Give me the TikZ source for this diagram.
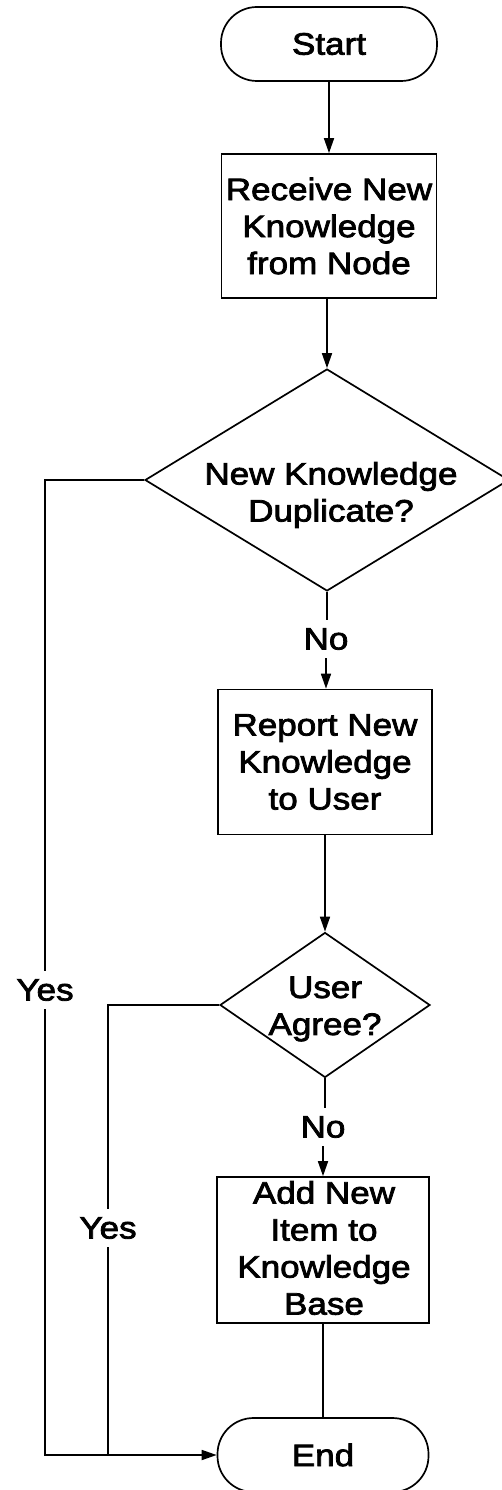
\documentclass[tikz,border=0pt]{standalone}
\usepackage{fontspec}
\setmainfont{Liberation Sans}[FakeStretch=1.13, FakeBold=2.5]
\usetikzlibrary{arrows.meta,shapes.geometric}

\begin{document}
\begin{tikzpicture}[x=1bp, y=-1bp,
  every node/.style={font=\fontsize{31bp}{37bp}\selectfont},
  line/.style={line width=1.7bp, draw=black},
  arr/.style={line, -{Triangle[length=15bp, width=10bp]}},
  terminal/.style={line, rectangle, rounded corners=36bp, inner sep=0pt},
  process/.style={line, rectangle, inner sep=0pt},
  decision/.style={line, diamond, inner sep=0pt},
  txt/.style={align=center, inner sep=0pt},
  lbl/.style={inner sep=8bp}
]
\useasboundingbox (0,0) rectangle (502,1490);

% process steps
\node[terminal, minimum width=216bp, minimum height=74bp] (start) at (329,44) {Start};
\node[process, minimum width=215bp, minimum height=144bp] (b1) at (329,226) {};
\node[txt] at (b1) {Receive New\\Knowledge\\from Node};

\node[decision, minimum width=364bp, minimum height=222bp] (d1) at (327,480) {};
\node[txt] at (331,495) {New Knowledge\\Duplicate?};

\node[process, minimum width=214bp, minimum height=145bp] (b2) at (325,762) {};
\node[txt] at (b2) {Report New\\Knowledge\\to User};

\node[decision, minimum width=210bp, minimum height=145bp] (d2) at (325,1005) {};
\node[txt] at (325,1009) {User\\Agree?};

\node[process, minimum width=212bp, minimum height=146bp] (b3) at (323,1250) {};
\node[txt] at (324,1248) {Add New\\Item to\\Knowledge\\Base};

\node[terminal, minimum width=211bp, minimum height=74bp] (end) at (323,1455) {End};

% branch labels
\node[lbl] (no1) at (326,639) {No};
\node[lbl] (no2) at (323,1127) {No};
\node[lbl] (yes1) at (45,990) {Yes};
\node[lbl] (yes2) at (108,1228) {Yes};

% main flow
\draw[arr] (start) -- (b1);
\draw[arr] (b1.south -| d1.north) -- (d1.north);
\draw[line] (d1.south) -- (d1.south |- no1.north);
\draw[arr] (no1.south) -- (no1.south |- b2.north);
\draw[arr] (b2.south) -- (d2.north);
\draw[line] (d2.south) -- (d2.south |- no2.north);
\draw[arr] (no2.south) -- (no2.south |- b3.north);
\draw[line] (b3.south) -- (b3.south |- end.north);

% "Yes" branches to End
\draw[line] (d1.west) -| (yes1.north);
\draw[arr] (yes1.south) |- (end.west);
\draw[line] (d2.west) -| (yes2.north);
\draw[line] (yes2.south) -- (yes2.south |- end.west);
\end{tikzpicture}
\end{document}
